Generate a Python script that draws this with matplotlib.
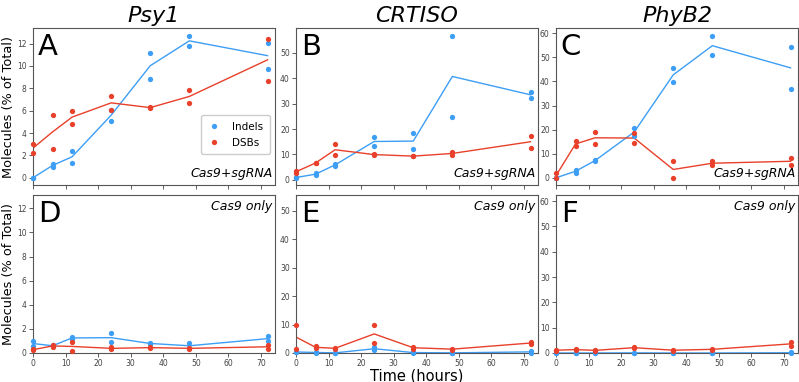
import numpy as np
import matplotlib
matplotlib.use("Agg")
import matplotlib.pyplot as plt

# time points (hours)
times = [0, 6, 12, 24, 36, 48, 72]

# two replicates per time point, % of total molecules
psy1_indels = [[0.0, 1.2, 2.4, 5.1, 11.2, 12.7, 12.1],
               [0.0, 1.0, 1.35, 6.1, 8.85, 11.8, 9.75]]
psy1_dsbs = [[3.05, 5.6, 6.0, 7.3, 6.3, 7.85, 12.4],
             [2.25, 2.6, 4.85, 6.1, 6.25, 6.7, 8.7]]
crtiso_indels = [[0.8, 2.7, 6.4, 16.7, 18.5, 56.6, 34.6],
                 [1.1, 1.8, 5.4, 13.5, 12.0, 24.7, 32.3]]
crtiso_dsbs = [[3.5, 6.8, 14.0, 10.2, 9.4, 10.9, 17.4],
               [2.9, 6.5, 9.7, 9.7, 9.3, 9.9, 12.6]]
phyb2_indels = [[0.0, 3.3, 7.5, 20.8, 45.7, 58.9, 54.3],
                [0.0, 2.1, 6.8, 17.2, 39.8, 50.8, 37.0]]
phyb2_dsbs = [[1.8, 15.1, 19.2, 18.7, 6.9, 6.8, 8.4],
              [0.0, 13.0, 14.0, 14.3, 0.0, 5.3, 5.3]]

psy1_ctrl_indels = [[0.97, 0.65, 1.33, 1.62, 0.83, 0.8, 1.38],
                    [0.6, 0.55, 1.17, 0.92, 0.75, 0.4, 1.0]]
psy1_ctrl_dsbs = [[0.3, 0.7, 0.89, 0.47, 0.5, 0.44, 0.7],
                  [0.25, 0.47, 0.2, 0.3, 0.39, 0.33, 0.33]]
crtiso_ctrl_indels = [[0.5, 0.3, 0.1, 2.0, 0.2, 0.1, 0.7],
                      [0.2, 0.1, 0.0, 1.0, 0.1, 0.0, 0.1]]
crtiso_ctrl_dsbs = [[9.8, 2.4, 1.9, 10.0, 2.2, 1.5, 3.7],
                    [1.4, 1.6, 1.4, 3.4, 1.5, 1.2, 3.3]]
phyb2_ctrl_indels = [[0.0, 0.0, 0.0, 0.1, 0.0, 0.0, 0.2],
                     [0.0, 0.0, 0.0, 0.0, 0.0, 0.0, 0.0]]
phyb2_ctrl_dsbs = [[1.3, 1.6, 1.2, 2.4, 1.3, 1.7, 4.4],
                   [0.9, 1.1, 0.9, 1.8, 0.9, 1.2, 2.8]]

genes = ["Psy1", "CRTISO", "PhyB2"]
letters_top = ["A", "B", "C"]
letters_bottom = ["D", "E", "F"]
top_data = [(psy1_indels, psy1_dsbs), (crtiso_indels, crtiso_dsbs), (phyb2_indels, phyb2_dsbs)]
bottom_data = [(psy1_ctrl_indels, psy1_ctrl_dsbs), (crtiso_ctrl_indels, crtiso_ctrl_dsbs),
               (phyb2_ctrl_indels, phyb2_ctrl_dsbs)]
top_ylims = [(-0.65, 13.4), (-2.0, 59.7), (-3.0, 62.2)]
bottom_ylims = [(0, 13.1), (0, 55.5), (0, 62.4)]
top_yticks = [range(0, 13, 2), range(0, 51, 10), range(0, 61, 10)]

blue = "#3d9ef5"
red = "#e8402a"

W, H = 799, 382
fig = plt.figure(figsize=(W / 100, H / 100), dpi=100)

lefts = [33, 296, 556]
aw = 242


def draw(ax, indels, dsbs):
    for reps, c in ((indels, blue), (dsbs, red)):
        reps = np.array(reps)
        ax.plot(times, reps.mean(axis=0), color=c, lw=1.0, zorder=2)
        for r in reps:
            ax.plot(times, r, "o", color=c, ms=3.8, mec="none", clip_on=False, zorder=3)


def style(ax):
    ax.set_xlim(0, 74.3)
    ax.set_xticks(range(0, 71, 10))
    ax.tick_params(labelsize=5.5, length=3, width=0.6, colors="#444444", pad=1.5)
    for s in ax.spines.values():
        s.set_color("#555555")
        s.set_linewidth(0.8)


for i in range(3):
    # top row
    ax = fig.add_axes([lefts[i] / W, (H - 185) / H, aw / W, 157 / H])
    draw(ax, *top_data[i])
    style(ax)
    ax.set_ylim(*top_ylims[i])
    ax.set_yticks(top_yticks[i])
    ax.tick_params(labelbottom=False)
    ax.set_title(genes[i], style="italic", fontsize=16, pad=4)
    ax.text(0.02, 0.97, letters_top[i], transform=ax.transAxes, fontsize=21, va="top", ha="left")
    ax.text(0.99, 0.03, "Cas9+sgRNA", transform=ax.transAxes, fontsize=9, style="italic",
            ha="right", va="bottom")
    if i == 0:
        ax.set_ylabel("Molecules (% of Total)", fontsize=9.3, labelpad=1.5)
        h1, = ax.plot([], [], "o", color=blue, ms=3.8, mec="none", label="Indels")
        h2, = ax.plot([], [], "o", color=red, ms=3.8, mec="none", label="DSBs")
        ax.legend(handles=[h1, h2], loc="center right", bbox_to_anchor=(1.0, 0.32),
                  fontsize=7.5, handletextpad=1.2, borderpad=0.6, labelspacing=0.6,
                  handlelength=1.2, framealpha=1, edgecolor="#cccccc", fancybox=True)

    # bottom row
    ax = fig.add_axes([lefts[i] / W, (H - 353) / H, aw / W, 158 / H])
    draw(ax, *bottom_data[i])
    style(ax)
    ax.set_ylim(*bottom_ylims[i])
    ax.set_yticks(top_yticks[i])
    ax.text(0.02, 0.97, letters_bottom[i], transform=ax.transAxes, fontsize=21, va="top", ha="left")
    ax.text(0.99, 0.97, "Cas9 only", transform=ax.transAxes, fontsize=9, style="italic",
            ha="right", va="top")
    if i == 0:
        ax.set_ylabel("Molecules (% of Total)", fontsize=9.3, labelpad=1.5)
    if i == 1:
        ax.set_xlabel("Time (hours)", fontsize=10.5, labelpad=0)

fig.savefig("out.png", dpi=100)
